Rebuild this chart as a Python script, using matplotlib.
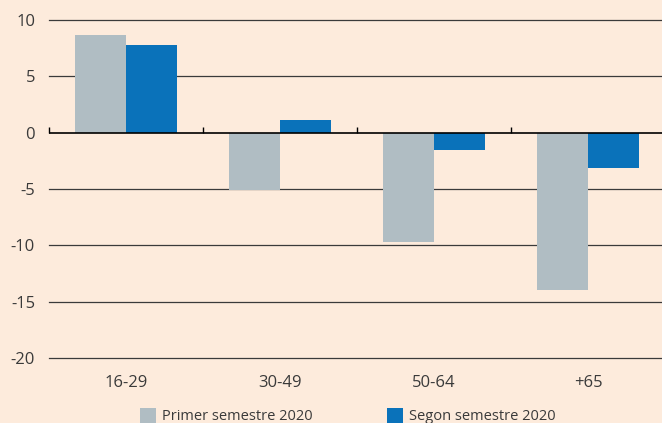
import numpy as np
import matplotlib.pyplot as plt

# dades
grups = ['16-29', '30-49', '50-64', '+65']
primer_sem = [8.7, -5.1, -9.7, -14.0]
segon_sem = [7.8, 1.1, -1.5, -3.1]
series_labels = ['Primer semestre 2020', 'Segon semestre 2020']
y_ticks = [10, 5, 0, -5, -10, -15, -20]

bg = '#FDEBDC'
gris = '#B0BDC3'
blau = '#0A72BA'
text_col = '#3A3A3A'

plt.rcParams['font.family'] = ['Open Sans', 'DejaVu Sans']

fig = plt.figure(figsize=(6.62, 4.23), dpi=100, facecolor=bg)
ax = fig.add_axes([49 / 662, 65 / 423, 1 - 49 / 662, (358 - 20) / 423])
ax.set_facecolor(bg)

x = np.arange(len(grups))
w = 0.33

# linies de la graella
for t in y_ticks:
    if t == 0:
        continue
    ax.axhline(t, color='#3A3A3A', lw=0.9, zorder=1, clip_on=False)

ax.bar(x - w / 2, primer_sem, w, color=gris, label=series_labels[0], zorder=2)
ax.bar(x + w / 2, segon_sem, w, color=blau, label=series_labels[1], zorder=2)

ax.axhline(0, color='black', lw=1.2, zorder=3)
# petites marques entre grups
for b in np.arange(len(grups)) - 0.5:
    ax.plot([b, b], [0, 0.5], color='black', lw=1.0, zorder=3,
            solid_capstyle='butt', clip_on=False)

ax.set_xlim(-0.5, len(grups) - 0.5 - 3 / 154)
ax.set_ylim(-20, 10)
ax.set_yticks(y_ticks)
ax.set_yticklabels([str(t) for t in y_ticks])
ax.set_xticks(x)
ax.set_xticklabels(grups)
ax.tick_params(axis='both', length=0, labelsize=12, colors=text_col)
ax.tick_params(axis='y', pad=10)
ax.tick_params(axis='x', pad=12)
for s in ax.spines.values():
    s.set_visible(False)

leg = fig.legend(loc='center left', bbox_to_anchor=(140 / 662, 7 / 423), ncol=2,
                 frameon=False, fontsize=10.5, handlelength=1.1, handleheight=1.2,
                 handletextpad=0.4, columnspacing=5.1, labelcolor=text_col,
                 borderaxespad=0, borderpad=0)

fig.savefig('out.png', dpi=100, facecolor=bg)
